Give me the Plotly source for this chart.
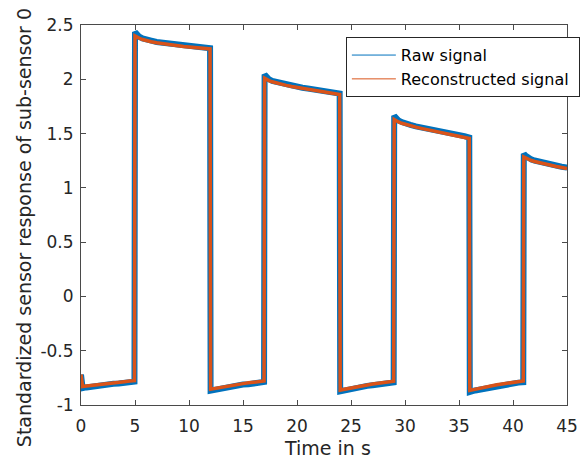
import plotly.graph_objects as go

# Time axis (s) shared by both signals
time_s = [
    0.0, 0.15, 0.5, 1.0, 1.5, 2.0, 2.5, 3.0, 3.5, 4.0, 4.5, 4.95,
    5.0, 5.15, 5.4, 5.7, 6.0, 6.5, 7.0, 7.5, 8.0, 8.5, 9.0, 9.5, 10.0, 10.5, 11.0, 11.5, 11.95,
    12.0, 12.5, 13.0, 13.5, 14.0, 14.5, 15.0, 15.5, 16.0, 16.5, 16.95,
    17.0, 17.15, 17.4, 17.7, 18.0, 18.5, 19.0, 19.5, 20.0, 20.5, 21.0, 21.5, 22.0, 22.5, 23.0, 23.5, 23.95,
    24.0, 24.5, 25.0, 25.5, 26.0, 26.5, 27.0, 27.5, 28.0, 28.5, 28.95,
    29.0, 29.15, 29.4, 29.7, 30.0, 30.5, 31.0, 31.5, 32.0, 32.5, 33.0, 33.5, 34.0, 34.5, 35.0, 35.5, 35.95,
    36.0, 36.5, 37.0, 37.5, 38.0, 38.5, 39.0, 39.5, 40.0, 40.5, 40.95,
    41.0, 41.15, 41.4, 41.7, 42.0, 42.5, 43.0, 43.5, 44.0, 44.5, 45.0,
]

raw_signal = [
    -0.72, -0.845, -0.838, -0.829, -0.824, -0.815, -0.811, -0.804, -0.801, -0.794, -0.791, -0.785,
    2.435, 2.415, 2.392, 2.376, 2.364, 2.356, 2.344, 2.338, 2.329, 2.324, 2.316, 2.312, 2.305, 2.301, 2.294, 2.292, 2.286,
    -0.868, -0.857, -0.846, -0.839, -0.828, -0.821, -0.812, -0.808, -0.799, -0.795, -0.788,
    2.045, 2.022, 2.001, 1.986, 1.978, 1.963, 1.953, 1.941, 1.934, 1.922, 1.915, 1.905, 1.899, 1.890, 1.884, 1.875, 1.868,
    -0.875, -0.862, -0.853, -0.842, -0.835, -0.824, -0.818, -0.809, -0.804, -0.796, -0.792,
    1.665, 1.643, 1.621, 1.606, 1.593, 1.580, 1.566, 1.557, 1.544, 1.536, 1.524, 1.516, 1.504, 1.497, 1.484, 1.476, 1.463,
    -0.880, -0.866, -0.856, -0.843, -0.835, -0.824, -0.818, -0.808, -0.803, -0.794, -0.790,
    1.315, 1.298, 1.278, 1.262, 1.252, 1.238, 1.226, 1.214, 1.205, 1.194, 1.186,
]

reconstructed_signal = [
    -0.72, -0.830, -0.826, -0.819, -0.812, -0.806, -0.800, -0.795, -0.790, -0.785, -0.780, -0.776,
    2.400, 2.390, 2.378, 2.366, 2.357, 2.346, 2.337, 2.329, 2.322, 2.315, 2.309, 2.303, 2.298, 2.293, 2.288, 2.284, 2.280,
    -0.855, -0.845, -0.836, -0.827, -0.818, -0.810, -0.803, -0.796, -0.790, -0.784, -0.778,
    2.010, 2.000, 1.988, 1.977, 1.968, 1.955, 1.944, 1.934, 1.925, 1.916, 1.907, 1.899, 1.891, 1.884, 1.876, 1.869, 1.860,
    -0.862, -0.851, -0.841, -0.832, -0.823, -0.815, -0.807, -0.800, -0.793, -0.787, -0.781,
    1.630, 1.620, 1.607, 1.595, 1.585, 1.571, 1.559, 1.548, 1.537, 1.527, 1.517, 1.507, 1.497, 1.487, 1.477, 1.467, 1.455,
    -0.866, -0.854, -0.843, -0.833, -0.823, -0.814, -0.806, -0.798, -0.791, -0.785, -0.779,
    1.285, 1.276, 1.264, 1.252, 1.243, 1.230, 1.218, 1.207, 1.197, 1.187, 1.178,
]

x_ticks = [0, 5, 10, 15, 20, 25, 30, 35, 40, 45]
x_tick_labels = ["0", "5", "10", "15", "20", "25", "30", "35", "40", "45"]
y_ticks = [-1, -0.5, 0, 0.5, 1, 1.5, 2, 2.5]
y_tick_labels = ["-1", "-0.5", "0", "0.5", "1", "1.5", "2", "2.5"]

series_names = ["Raw signal", "Reconstructed signal"]
BLUE = "#0072BD"
ORANGE = "#D95319"
AXIS = "#4a4a4a"
TEXT = "#262626"
FONT = "DejaVu Sans"

fig = go.Figure()

# thick data lines (no legend entry)
fig.add_trace(go.Scatter(x=time_s, y=raw_signal, mode="lines",
                         line=dict(color=BLUE, width=6), showlegend=False))
fig.add_trace(go.Scatter(x=time_s, y=reconstructed_signal, mode="lines",
                         line=dict(color=ORANGE, width=3.5), showlegend=False))

# thin legend samples; a little padding pushes the legend box to the right edge
for name, col in zip(series_names, [BLUE, ORANGE]):
    fig.add_trace(go.Scatter(x=[None], y=[None], mode="lines",
                             name=name + "\u00a0",
                             line=dict(color=col, width=1)))

axis_common = dict(
    showline=True, linecolor=AXIS, linewidth=1, mirror="ticks",
    ticks="inside", ticklen=5, tickcolor=AXIS, tickwidth=1,
    showgrid=False, zeroline=False,
    tickfont=dict(family=FONT, size=17, color=TEXT),
)

fig.update_xaxes(range=[0, 45], tickvals=x_ticks, ticktext=x_tick_labels,
                 ticklabelstandoff=6, **axis_common)
fig.update_yaxes(range=[-1, 2.5], tickvals=y_ticks, ticktext=y_tick_labels,
                 ticklabelstandoff=3, **axis_common)

fig.update_layout(
    width=581, height=459,
    margin=dict(l=81, r=14, t=25, b=54, autoexpand=False),
    paper_bgcolor="white", plot_bgcolor="white",
    font=dict(family=FONT, color=TEXT),
    legend=dict(
        x=0.545, y=0.968, xanchor="left", yanchor="top",
        bgcolor="white", bordercolor=TEXT, borderwidth=1,
        font=dict(family=FONT, size=16, color="#000000"),
        itemwidth=44, tracegroupgap=0,
    ),
    annotations=[
        dict(text="Time in s", xref="paper", yref="paper", x=0.508, y=-0.113,
             xanchor="center", yanchor="middle", showarrow=False,
             font=dict(family=FONT, size=19, color=TEXT)),
        dict(text="Standardized sensor response of sub-sensor 0", xref="paper", yref="paper",
             x=-0.1173, y=0.468, xanchor="center", yanchor="middle", textangle=-90,
             showarrow=False, font=dict(family=FONT, size=19, color=TEXT)),
    ],
)

fig.write_html("out.html")
